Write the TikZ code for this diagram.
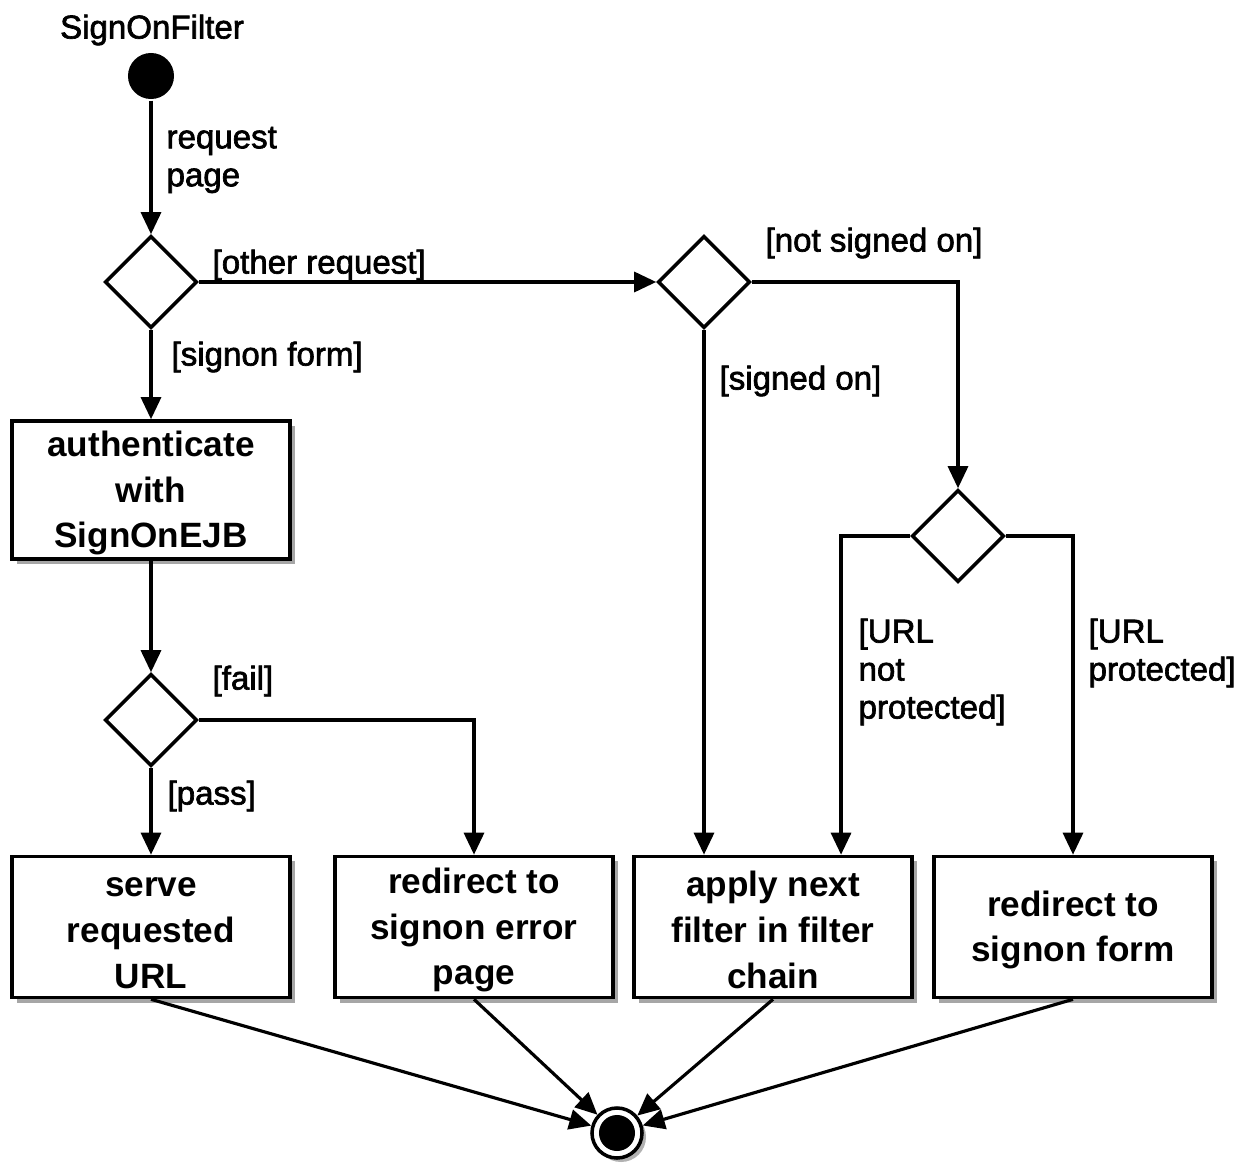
\documentclass[tikz,border=0pt]{standalone}
\usepackage{fontspec}
\setmainfont{Liberation Sans}
\newfontfamily\lblfont[FakeBold=2]{Liberation Sans}
\usetikzlibrary{shapes.geometric,arrows.meta,shadows}
\begin{document}
\begin{tikzpicture}[x=0.01cm,y=-0.01cm,
  line width=0.9pt,
  arr/.style={-{Triangle[length=0.22cm,width=0.2cm]}},
  act/.style={draw, line width=1pt, fill=white, minimum width=2.78cm, minimum height=1.38cm, inner sep=0pt, align=center, font=\fontsize{10}{13}\selectfont\bfseries, drop shadow={shadow xshift=0.05cm, shadow yshift=-0.05cm, fill=black!35, opacity=1}},
  dec/.style={draw, diamond, line width=1pt, fill=white, minimum width=0.92cm, minimum height=0.92cm, inner sep=0pt},
  lbl/.style={font=\lblfont\fontsize{9.4}{10.8}\selectfont, align=left, anchor=west, inner sep=0pt},
]
\useasboundingbox (0,0) rectangle (1239,1170);
\node[font=\lblfont\fontsize{9.4}{11}\selectfont] (title) at (152,30) {SignOnFilter};
\node[circle, fill, minimum size=0.46cm, inner sep=0pt] (start) at (151,76) {};
\node[dec] (d1) at (151,282) {};
\node[act] (auth) at (151,490) {\rule{0pt}{9pt}authenticate\\with\\SignOnEJB};
\node[dec] (d2) at (151,720) {};
\node[dec] (d3) at (704,282) {};
\node[dec] (d4) at (958,536) {};
\node[act, minimum height=1.41cm] (b1) at (151,927) {\rule{0pt}{9pt}serve\\requested\\URL};
\node[act, minimum height=1.41cm] (b2) at (474,927) {\rule{0pt}{9pt}redirect to\\signon error\\page};
\node[act, minimum height=1.41cm] (b3) at (773,927) {\rule{0pt}{9pt}apply next\\filter in filter\\chain};
\node[act, minimum height=1.41cm] (b4) at (1073,927) {\rule{0pt}{9pt}redirect to\\signon form};
\node[circle, draw, line width=1pt, fill=white, minimum size=0.5cm, inner sep=0pt,
  drop shadow={shadow xshift=0.04cm, shadow yshift=-0.04cm, fill=black!30, opacity=1}] (end) at (617,1133) {};
\node[circle, fill, minimum size=0.36cm, inner sep=0pt] (endin) at (end) {};

\draw[arr] (start) -- (d1);
\draw[arr] (d1) -- (auth);
\draw[arr] (d1) -- (d3);
\draw[arr] (auth) -- (d2);
\draw[arr] (d2) -- (b1);
\draw[arr] (d2.east) -| (b2.north);
\draw[arr] (d3.south) -- (d3.south |- b3.north);
\draw[arr] (d3.east) -| (d4.north);
\draw[arr] (d4.west) -| ([xshift=0.68cm]b3.north);
\draw[arr] (d4.east) -| (b4.north);
\draw[arr] (b1.south) -- (end);
\draw[arr] (b2.south) -- (end);
\draw[arr] (b3.south) -- (end);
\draw[arr] (b4.south) -- (end);

\node[lbl] (l1) at (165,160) {request\\page};
\node[lbl] (l2) at (211,265) {[other request]};
\node[lbl] (l3) at (170,357) {[signon form]};
\node[lbl] (l4) at (211,681) {[fail]};
\node[lbl] (l5) at (166,796) {[pass]};
\node[lbl] (l6) at (764,243) {[not signed on]};
\node[lbl] (l7) at (718,381) {[signed on]};
\node[lbl] (l8) at (857,672) {[URL\\not\\protected]};
\node[lbl] (l9) at (1087,653) {[URL\\protected]};
\end{tikzpicture}
\end{document}
